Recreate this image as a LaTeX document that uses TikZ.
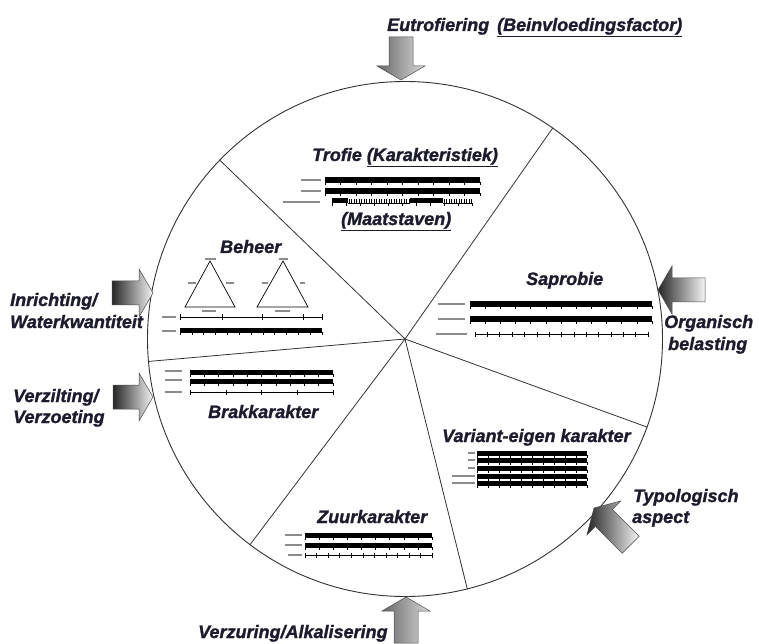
\documentclass[tikz,border=0pt]{standalone}
\usepackage{fontspec}
\setmainfont{Liberation Sans}
\newfontfamily\heavyfont[FakeBold=1.3]{Liberation Sans}
\usetikzlibrary{calc}

\definecolor{ink}{RGB}{28,28,46}

\newcommand{\lblfont}{\heavyfont\fontsize{18}{20}\selectfont\bfseries\itshape}

% big grey arrow: [style] tip, direction, length
\newcommand{\blockarrow}[4][]{%
  \path[blockfill, #1] (#2)
    -- ($(#2)+(#3+180:14)+(#3+90:24)$)
    -- ($(#2)+(#3+180:14)+(#3+90:12)$)
    -- ($(#2)+(#3+180:#4)+(#3+90:12)$)
    -- ($(#2)+(#3+180:#4)+(#3-90:12)$)
    -- ($(#2)+(#3+180:14)+(#3-90:12)$)
    -- ($(#2)+(#3+180:14)+(#3-90:24)$) -- cycle;}

% thick scale bar with ruler below: x1, x2, y, intervals
\newcommand{\solidbar}[4]{%
  \fill[black] (#1,#3) rectangle (#2,#3+4.5);
  \draw[ruler] (#1,#3-0.6) -- (#2,#3-0.6);
  \foreach \k in {0,...,#4}
    {\draw[ruler] ({#1+(#2-#1)*\k/#4},#3) -- ++(0,-2.8);}}

% thin ruler: x1, x2, y, intervals
\newcommand{\thinbar}[4]{%
  \draw[ruler] (#1,#3) -- (#2,#3);
  \foreach \k in {0,...,#4}
    {\draw[ruler] ({#1+(#2-#1)*\k/#4},#3+2.5) -- ++(0,-5);}}

% tiny legend text, too small to read
\newcommand{\smear}[3]{\draw[smearline] (#1,#3) -- (#2,#3);}

\begin{document}
\begin{tikzpicture}[x=1pt, y=1pt,
    lbl/.style={font=\lblfont, text=ink, inner sep=0pt, anchor=base west},
    spoke/.style={draw=black!80, line width=0.8pt},
    blockfill/.style={draw=black!70, line width=0.5pt,
                      left color=black!85, right color=black!4},
    lightfill/.style={left color=black!60, right color=black!15},
    ruler/.style={line width=0.45pt},
    smearline/.style={line width=1.6pt, black!45}
  ]
  \useasboundingbox[fill=white] (0,0) rectangle (759,643);

  \node[circle, draw=black!80, line width=0.9pt, minimum size=515pt,
        inner sep=0pt] (wheel) at (405,304) {};
  \foreach \a in {55,136,185,233,284,340}
    \draw[spoke] (wheel.center) -- (wheel.\a);

  % influencing factors
  \blockarrow[lightfill]{401,563}{-90}{43}
  \blockarrow[lightfill]{406,46}{90}{46}
  \blockarrow{153,350}{0}{41}
  \blockarrow{153,246}{0}{40}
  \blockarrow{658,353}{180}{47}
  \blockarrow{594,135}{135}{52}

  \node[lbl] (eutro) at (387,612) {Eutrofiering};
  \node[lbl] (factor) at (497,612) {\underline{(Beinvloedingsfactor)}};
  \node[lbl] (inricht) at (10,337) {Inrichting/};
  \node[lbl] (waterkw) at (10,315) {Waterkwantiteit};
  \node[lbl] (verzilt) at (13,241) {Verzilting/};
  \node[lbl] (verzoet) at (13,220) {Verzoeting};
  \node[lbl] (organ) at (664,315) {Organisch};
  \node[lbl] (belast) at (668,293) {belasting};
  \node[lbl] (typo) at (633,141) {Typologisch};
  \node[lbl] (aspect) at (632,120) {aspect};
  \node[lbl] (verzuur) at (198,5) {Verzuring/Alkalisering};

  % characteristics
  \node[lbl] (trofie) at (312,482) {Trofie \underline{(Karakteristiek)}};
  \node[lbl] (maat) at (341,418) {\underline{(Maatstaven)}};
  \node[lbl] (beheer) at (220,390) {Beheer};
  \node[lbl] (saprob) at (526,358) {Saprobie};
  \node[lbl] (brak) at (208,225) {Brakkarakter};
  \node[lbl] (variant) at (442,201) {Variant-eigen karakter};
  \node[lbl] (zuur) at (317,120) {Zuurkarakter};

  % trofie scales
  \solidbar{325}{480}{461}{10}
  \solidbar{325}{480}{450}{10}
  \fill (332,440) rectangle (348,444.5);
  \fill (410,440) rectangle (443,444.5);
  \draw[ruler] (348,440) -- (410,440) (443,440) -- (472,440);
  \foreach \x in {349,351.5,...,410} \draw[ruler] (\x,440) -- ++(0,4);
  \foreach \x in {444,446.5,...,472} \draw[ruler] (\x,440) -- ++(0,4);
  \foreach \k in {0,...,10} \draw[ruler] ({332+14*\k},440) -- ++(0,-2.8);
  \smear{301}{321}{463} \smear{301}{321}{452} \smear{283}{320}{441}

  % beheer triangles and scales
  \draw[ruler, line width=0.7pt] (210,382) -- (185,336) -- (235,336) -- cycle;
  \draw[ruler, line width=0.7pt] (283,382) -- (257,336) -- (308,336) -- cycle;
  \smear{205}{216}{384} \smear{188}{196}{360} \smear{226}{234}{360}
  \smear{202}{216}{332}
  \smear{279}{288}{384} \smear{262}{268}{360} \smear{300}{305}{360}
  \smear{275}{290}{332}
  \draw[ruler, line width=0.8pt] (180,326) -- (322,326);
  \foreach \x in {180,222,262,303,322} \draw[ruler] (\x,329) -- ++(0,-6);
  \solidbar{180}{322}{311}{12}
  \smear{162}{176}{326} \smear{162}{176}{312}

  % brakkarakter scales
  \solidbar{190}{333}{269}{10}
  \solidbar{190}{333}{260}{10}
  \thinbar{190}{333}{251}{4}
  \smear{165}{182}{272} \smear{165}{182}{263} \smear{165}{182}{251}

  % saprobie scales
  \solidbar{470}{652}{337}{12}
  \solidbar{470}{652}{322}{12}
  \thinbar{475}{648}{309}{14}
  \smear{438}{465}{339} \smear{438}{465}{324} \smear{436}{467}{309}

  % variant-eigen scales
  \foreach \y in {188,181,173,165,158}
    {\solidbar{477}{587}{\y}{10}}
  \smear{468}{475}{190} \smear{468}{475}{183} \smear{468}{475}{175}
  \smear{452}{475}{167} \smear{452}{475}{160}

  % zuurkarakter scales
  \solidbar{305}{432}{106}{9}
  \solidbar{305}{432}{96}{9}
  \thinbar{305}{432}{88}{11}
  \smear{285}{302}{108} \smear{285}{302}{98} \smear{288}{302}{88}
\end{tikzpicture}
\end{document}
